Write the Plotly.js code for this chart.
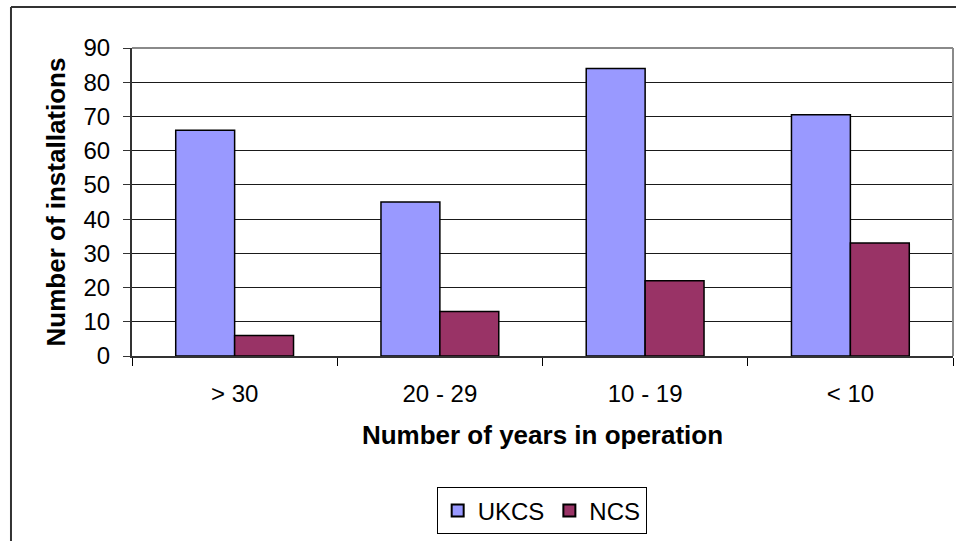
<!DOCTYPE html>
<html>
<head>
<meta charset="utf-8">
<script src="https://cdn.plot.ly/plotly-3.0.1.min.js"></script>
<style>html,body{margin:0;padding:0;background:#fff;}#chart{width:956px;height:541px;}</style>
</head>
<body>
<div id="chart"></div>
<script>
var categories = ["> 30", "20 - 29", "10 - 19", "< 10"];
var ukcsValues = [66, 45, 84, 70.5];
var ncsValues = [6, 13, 22, 33];
var seriesNames = ["UKCS", "NCS"];
var yTickValues = [0, 10, 20, 30, 40, 50, 60, 70, 80, 90];

var FONT = "Liberation Sans, Arial, sans-serif";

var traces = [
  {type: "bar", name: seriesNames[0], x: categories, y: ukcsValues,
   marker: {color: "#9999FF", line: {color: "#000000", width: 1.5}}, hoverinfo: "skip"},
  {type: "bar", name: seriesNames[1], x: categories, y: ncsValues,
   marker: {color: "#993366", line: {color: "#000000", width: 1.5}}, hoverinfo: "skip"}
];

var layout = {
  width: 956, height: 541,
  margin: {l: 132, r: 3, t: 48, b: 185, pad: 0},
  paper_bgcolor: "#ffffff", plot_bgcolor: "#ffffff",
  font: {family: FONT, size: 24, color: "#000"},
  barmode: "group", bargap: 0.426, bargroupgap: 0,
  showlegend: true,
  legend: {orientation: "h", x: 0.499, xanchor: "center", y: -0.4267, yanchor: "top",
           bordercolor: "#000", borderwidth: 1, font: {family: FONT, size: 24, color: "#000"},
           itemwidth: 30, traceorder: "normal", itemsizing: "constant"},
  xaxis: {type: "category", tickson: "boundaries", ticks: "outside", ticklen: 8, tickcolor: "#000",
          tickwidth: 1, showline: true, linecolor: "#333", linewidth: 2, showgrid: false,
          ticklabelstandoff: 15, tickfont: {family: FONT, size: 24, color: "#000"},
          title: {text: "<b>Number of years in operation</b>", font: {family: FONT, size: 26, color: "#000"}, standoff: 20},
          automargin: false, fixedrange: true},
  yaxis: {range: [0, 90], tickvals: yTickValues, ticks: "outside", ticklen: 7, tickcolor: "#333",
          showline: true, linecolor: "#333", linewidth: 2, showgrid: true, gridcolor: "#1a1a1a", gridwidth: 1,
          zeroline: false, ticklabelstandoff: 8, tickfont: {family: FONT, size: 24, color: "#000"},
          title: {text: "<b>Number of installations</b>", font: {family: FONT, size: 26, color: "#000"}, standoff: 10},
          automargin: false, fixedrange: true},
  shapes: [
    {type: "line", xref: "paper", yref: "paper", x0: 0, x1: 1, y0: 1, y1: 1, line: {color: "#8a8a8a", width: 2}},
    {type: "line", xref: "paper", yref: "paper", x0: 1, x1: 1, y0: 0, y1: 1, line: {color: "#8a8a8a", width: 2}},
    {type: "line", xref: "paper", yref: "paper", x0: -0.1474, x1: 1.2, y0: 1.1333, y1: 1.1333, line: {color: "#333", width: 2}},
    {type: "line", xref: "paper", yref: "paper", x0: -0.1474, x1: -0.1474, y0: 1.1333, y1: -0.7, line: {color: "#333", width: 2}}
  ]
};

Plotly.newPlot("chart", traces, layout, {staticPlot: true, displayModeBar: false});
</script>
</body>
</html>
